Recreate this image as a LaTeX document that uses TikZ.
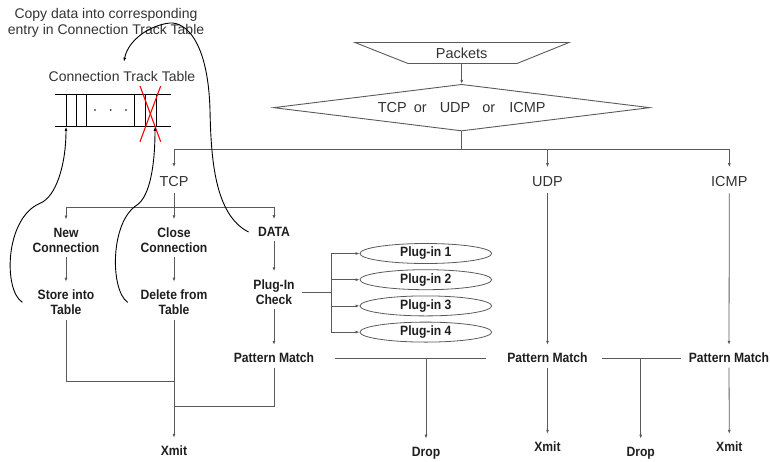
\documentclass[tikz,border=0pt]{standalone}
\usepackage{fontspec}
\setmainfont{Liberation Sans}
\newfontfamily\lblfont{Liberation Sans}[FakeStretch=0.9]
\usetikzlibrary{arrows.meta,shapes.geometric}
\definecolor{lncol}{HTML}{5A5A5A}
\definecolor{txtcol}{HTML}{333333}
\definecolor{bdcol}{HTML}{1E1E1E}
\tikzset{
  ln/.style={draw=lncol, line width=0.8pt},
  tip/.style={-{Latex[length=4pt,width=3pt]}},
  arr/.style={ln, tip, shorten >=3.5pt},
  arrto/.style={ln, tip},
  lbl/.style={font=\lblfont\fontsize{13.5}{15}\selectfont\bfseries, text=bdcol, align=center,
              inner xsep=0pt, inner ysep=4.5pt},
  rlbl/.style={font=\fontsize{14.5}{17}\selectfont, text=txtcol, inner xsep=0pt, inner ysep=6pt},
  note/.style={font=\fontsize{14}{16}\selectfont, text=txtcol, align=center, inner sep=0pt},
  curve/.style={draw=black, line width=0.9pt},
  curvearr/.style={curve, tip},
  tblline/.style={draw=black, line width=1pt},
  plugin/.style={ellipse, draw=lncol, line width=0.8pt, minimum width=131.7pt,
                 minimum height=20pt, inner sep=0pt,
                 font=\lblfont\fontsize{13.5}{15}\selectfont\bfseries, text=bdcol},
  outline/.style={draw=lncol, line width=0.9pt}
}
\begin{document}
\begin{tikzpicture}[x=1pt,y=-1pt]
\useasboundingbox (0,0) rectangle (770,461);

% ---------- connection track table ----------
\node[note, anchor=north] (copynote) at (106,8)
  {Copy data into corresponding\\entry in Connection Track Table};
\node[note] (ctt) at (122,76) {Connection Track Table};
\node[minimum width=115.7pt, minimum height=31.7pt, inner sep=0pt] (tbl) at (112.85,110.85) {};
\draw[tblline] (tbl.north west) -- (tbl.north east);
\draw[tblline] (tbl.south west) -- (tbl.south east);
\foreach \x in {66,76,86.7,134.3,145.5,156}
  \draw[tblline] (\x,95) -- (\x,126.7);
\foreach \x in {95,110.7,126}
  \fill[black] (\x,110) circle (0.9pt);
\draw[red, line width=1.1pt] (140,86) -- (160.7,141.7);
\draw[red, line width=1.1pt] (160.7,86) -- (140,141.7);

% ---------- packet classification ----------
\node[rlbl, minimum height=20.6pt, inner ysep=0pt] (packets) at (461.7,53) {Packets};
\draw[outline] ([xshift=-106.7pt]packets.north) -- ([xshift=107.3pt]packets.north)
  -- ([xshift=55.3pt]packets.south) -- ([xshift=-53.7pt]packets.south) -- cycle;
\node[diamond, aspect=8, outline, minimum width=376.3pt, minimum height=46.7pt,
      inner sep=0pt, font=\fontsize{14.5}{17}\selectfont, text=txtcol] (sel) at (461.7,107.65)
  {TCP\hspace{7pt}or\hspace{13pt}UDP\hspace{12pt}or\hspace{14pt}ICMP};
\draw[arrto] (packets.south) -- (sel.north);

\node[rlbl] (tcp)  at (174,182)   {TCP};
\node[rlbl] (udp)  at (547.5,182) {UDP};
\node[rlbl] (icmp) at (729.3,182) {ICMP};
\coordinate (proto) at (461.7,149);
\draw[ln] (sel.south) -- (proto);
\draw[arr] (proto) -| (tcp.north);
\draw[arr] (proto) -| (udp.north);
\draw[arr] (proto) -| (icmp.north);

% ---------- TCP branch ----------
\node[lbl] (newc)   at (66,240)   {New\\Connection};
\node[lbl] (closec) at (174,240)  {Close\\Connection};
\node[lbl] (data)   at (274,232)  {DATA};
\coordinate (tcpbus) at (174,207.3);
\draw[ln] (tcp.south) -- (tcpbus);
\draw[arr] (tcpbus) -| (newc.north);
\draw[arr] (tcpbus) -- (closec.north);
\draw[arr] (tcpbus) -| (data.north);

\node[lbl] (store)  at (66,302.4)  {Store into\\Table};
\node[lbl] (delete) at (174,302.4) {Delete from\\Table};
\node[lbl] (plugchk) at (274,292)  {Plug-In\\Check};
\draw[arr] (newc.south) -- (store.north);
\draw[arr] (closec.south) -- (delete.north);
\draw[arr] (data.south) -- (plugchk.north);

% plug-ins
\node[plugin] (p1) at (425.8,253.5) {Plug-in 1};
\node[plugin] (p2) at (425.8,279.7) {Plug-in 2};
\node[plugin] (p3) at (425.8,305.9) {Plug-in 3};
\node[plugin] (p4) at (425.8,332.1) {Plug-in 4};
\coordinate (pbus) at (331,292);
\draw[ln] ([xshift=7.5pt]plugchk.east) -- (pbus);
\draw[arrto] (pbus) |- (p1.west);
\draw[arrto] (pbus) |- (p2.west);
\draw[arrto] (pbus) |- (p3.west);
\draw[arrto] (pbus) |- (p4.west);

% pattern matching
\node[lbl] (pm1) at (274,358)   {Pattern Match};
\node[lbl] (pm2) at (547.5,358) {Pattern Match};
\node[lbl] (pm3) at (729,358)   {Pattern Match};
\draw[arr] (plugchk.south) -- (pm1.north);
\draw[arr] (udp.south) -- (pm2.north);
\draw[arr] (icmp.south) -- (pm3.north);
\draw[ln] ([xshift=20.3pt]pm1.east) -- ([xshift=-21pt]pm2.west);
\draw[ln] ([xshift=14.5pt]pm2.east) -- ([xshift=-7.6pt]pm3.west);

% results
\node[lbl] (xmit1) at (174,451)   {Xmit};
\node[lbl, text depth=0pt] (drop1) at (426,451.5)   {Drop};
\node[lbl] (xmit2) at (547.5,447) {Xmit};
\node[lbl, text depth=0pt] (drop2) at (640.7,451.5) {Drop};
\node[lbl] (xmit3) at (729.3,447) {Xmit};
\coordinate (d1) at (426,358);
\coordinate (d2) at (640.7,358);
\draw[arr] (d1) -- (drop1.north);
\draw[arr] (d2) -- (drop2.north);
\draw[arr] (pm2.south) -- (xmit2.north);
\draw[arr] (pm3.south) -- (xmit3.north);

\coordinate (m1) at (174,381);
\coordinate (m2) at (174,406);
\draw[ln] (store.south) |- (m1);
\draw[ln] (pm1.south) |- (m2);
\draw[arr] (delete.south) -- (xmit1.north);

% table updates
\draw[curvearr] ([xshift=-15pt]store.west) .. controls (3,290) and (5,218) .. (40,203.3)
  .. controls (56,197) and (66,165) .. ([xshift=-46.85pt]tbl.south);
\draw[curvearr] ([xshift=-12.7pt]delete.west) .. controls (110,290) and (110,222) .. (137,205)
  .. controls (150,196) and (155,165) .. ([xshift=42.15pt]tbl.south);
\draw[curvearr] ([xshift=-9.3pt]data.west) .. controls (215,215) and (211,160) .. (210,110)
  .. controls (208,40) and (185,22) .. (170,23)
  .. controls (150,25) and (128,40) .. ([shift={(2pt,9pt)}]ctt.north);
\end{tikzpicture}
\end{document}
